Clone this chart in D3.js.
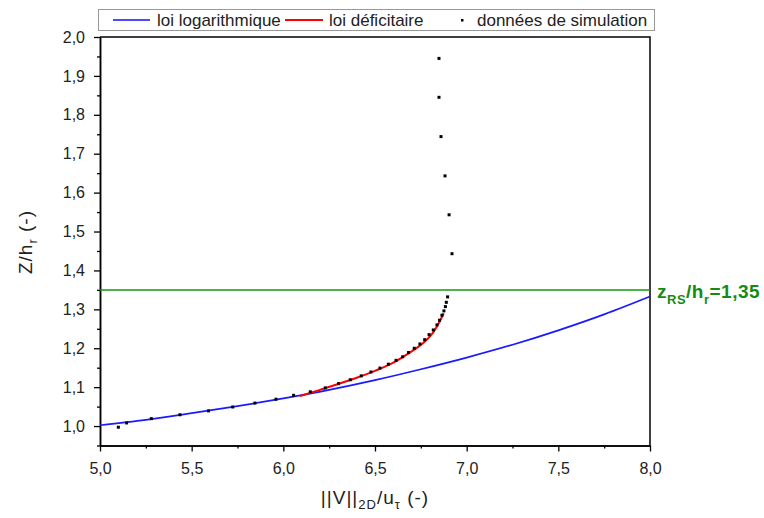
<!DOCTYPE html>
<html><head><meta charset="utf-8">
<script src="https://cdn.jsdelivr.net/npm/d3@7"></script>
<style>body{margin:0;background:#fff}svg{display:block}text{font-family:"Liberation Sans",Arial,sans-serif}</style>
</head><body>
<script>
// Simulation data (||V||/u_tau , Z/h_r)
const simX = [5.10,5.145,5.28,5.436,5.592,5.724,5.845,5.96,6.056,6.147,6.229,6.301,6.365,6.425,6.478,6.527,6.573,6.615,6.651,6.683,6.714,6.745,6.771,6.795,6.818,6.838,6.852,6.865,6.876,6.884,6.889,6.896,6.920,6.904,6.882,6.860,6.849,6.849];
const simZ = [0.997,1.008,1.019,1.029,1.039,1.049,1.059,1.069,1.079,1.088,1.098,1.109,1.119,1.129,1.139,1.149,1.159,1.169,1.178,1.189,1.200,1.211,1.222,1.235,1.247,1.260,1.272,1.285,1.296,1.307,1.318,1.332,1.443,1.543,1.643,1.744,1.845,1.945];
// Log law curve
const logX = [5.00,5.25,5.50,5.75,6.00,6.25,6.50,6.75,7.00,7.25,7.50,7.75,8.00];
const logZ = [1.002,1.016,1.033,1.051,1.071,1.093,1.118,1.146,1.176,1.209,1.246,1.287,1.333];
// Defect law curve
const defX = [6.09,6.20,6.30,6.40,6.50,6.60,6.70,6.76,6.81,6.845,6.875];
const defZ = [1.077,1.093,1.108,1.124,1.142,1.163,1.192,1.212,1.236,1.262,1.290];
const xTicks = [5.0,5.5,6.0,6.5,7.0,7.5,8.0];
const yTicks = [1.0,1.1,1.2,1.3,1.4,1.5,1.6,1.7,1.8,1.9,2.0];
const zRS = 1.35;

const W=764,H=518;
const svg=d3.select("body").append("svg").attr("width",W).attr("height",H);
const x=d3.scaleLinear().domain([5,8]).range([100,650]);
const y=d3.scaleLinear().domain([0.95,2.0]).range([445.5,37]);
const fmt=d=>d3.format(".1f")(d).replace(".",",");

// axes
const xAx=svg.append("g").attr("transform",`translate(0,${y(0.95)})`)
 .call(d3.axisBottom(x).tickValues(xTicks).tickFormat(fmt).tickSize(6).tickSizeOuter(0));
const xMin=svg.append("g").attr("transform",`translate(0,${y(0.95)})`)
 .call(d3.axisBottom(x).tickValues(d3.range(5.25,8,0.5)).tickFormat("").tickSize(3).tickSizeOuter(0));
const yAx=svg.append("g").attr("transform",`translate(${x(5)},0)`)
 .call(d3.axisLeft(y).tickValues(yTicks).tickFormat(fmt).tickSize(6).tickSizeOuter(0));
const yMin=svg.append("g").attr("transform",`translate(${x(5)},0)`)
 .call(d3.axisLeft(y).tickValues(d3.range(0.95,2.0,0.1).map(v=>+v.toFixed(2))).tickFormat("").tickSize(3).tickSizeOuter(0));
[xAx,xMin,yAx,yMin].forEach(g=>{g.select(".domain").attr("stroke","#000").attr("stroke-width",1.5);
 g.selectAll(".tick line").attr("stroke","#000").attr("stroke-width",1.3);
 g.selectAll("text").attr("font-size",16).attr("fill","#222");});
xAx.selectAll("text").attr("dy","1.22em");
yAx.selectAll("text").attr("dx","-6px");
// frame top/right
svg.append("path").attr("d",`M${x(5)},${y(2)}H${x(8)}V${y(0.95)}`).attr("fill","none").attr("stroke","#000").attr("stroke-width",1.5);

// green line
svg.append("line").attr("x1",x(5)).attr("x2",x(8)).attr("y1",y(zRS)).attr("y2",y(zRS)).attr("stroke","#109a10").attr("stroke-width",1.5);

const line=d3.line().x(d=>x(d[0])).y(d=>y(d[1])).curve(d3.curveMonotoneX);
svg.append("path").datum(logX.map((v,i)=>[v,logZ[i]])).attr("d",line).attr("fill","none").attr("stroke","#1a1aff").attr("stroke-width",1.7);
const line2=d3.line().x(d=>x(d[0])).y(d=>y(d[1])).curve(d3.curveCatmullRom);
svg.append("path").datum(defX.map((v,i)=>[v,defZ[i]])).attr("d",line2).attr("fill","none").attr("stroke","#ff0000").attr("stroke-width",2);

svg.append("g").selectAll("rect").data(simX.map((v,i)=>[v,simZ[i]])).join("rect")
 .attr("x",d=>x(d[0])-1.5).attr("y",d=>y(d[1])-1.5).attr("width",3).attr("height",3).attr("fill","#000");

// green label
const gl=svg.append("text").attr("x",657).attr("y",298).attr("fill","#148c14").attr("font-weight","bold").attr("font-size",19).attr("letter-spacing","0.5px");
gl.append("tspan").text("z");
gl.append("tspan").attr("font-size",13).attr("dy",6).text("RS");
gl.append("tspan").attr("dy",-6).text("/h");
gl.append("tspan").attr("font-size",13).attr("dy",6).text("r");
gl.append("tspan").attr("dy",-6).text("=1,35");

// axis titles
const xt=svg.append("text").attr("x",375).attr("y",504).attr("text-anchor","middle").attr("font-size",19).attr("letter-spacing","1px").attr("fill","#222");
xt.append("tspan").text("||V||");
xt.append("tspan").attr("font-size",13).attr("dy",5).text("2D");
xt.append("tspan").attr("dy",-5).text("/u");
xt.append("tspan").attr("font-size",13).attr("dy",5).text("τ");
xt.append("tspan").attr("dy",-5).text(" (-)");
const yt=svg.append("text").attr("transform","translate(32,242) rotate(-90)").attr("text-anchor","middle").attr("font-size",19).attr("letter-spacing","1px").attr("fill","#222");
yt.append("tspan").text("Z/h");
yt.append("tspan").attr("font-size",13).attr("dy",5).text("r");
yt.append("tspan").attr("dy",-5).text(" (-)");

// legend
const lg=svg.append("g");
lg.append("rect").attr("x",98.5).attr("y",9.5).attr("width",556).attr("height",21).attr("fill","#fff").attr("stroke","#999");
lg.append("line").attr("x1",113).attr("x2",150).attr("y1",20).attr("y2",20).attr("stroke","#4a4aff").attr("stroke-width",2);
lg.append("text").attr("x",157).attr("y",26).attr("font-size",17).attr("fill","#222").text("loi logarithmique");
lg.append("line").attr("x1",285).attr("x2",323).attr("y1",20).attr("y2",20).attr("stroke","#ff0000").attr("stroke-width",2);
lg.append("text").attr("x",329).attr("y",26).attr("font-size",17).attr("fill","#222").text("loi déficitaire");
lg.append("rect").attr("x",461).attr("y",19).attr("width",2.5).attr("height",2.5).attr("fill","#000");
lg.append("text").attr("x",477).attr("y",26).attr("font-size",17).attr("fill","#222").text("données de simulation");
</script>
</body></html>
